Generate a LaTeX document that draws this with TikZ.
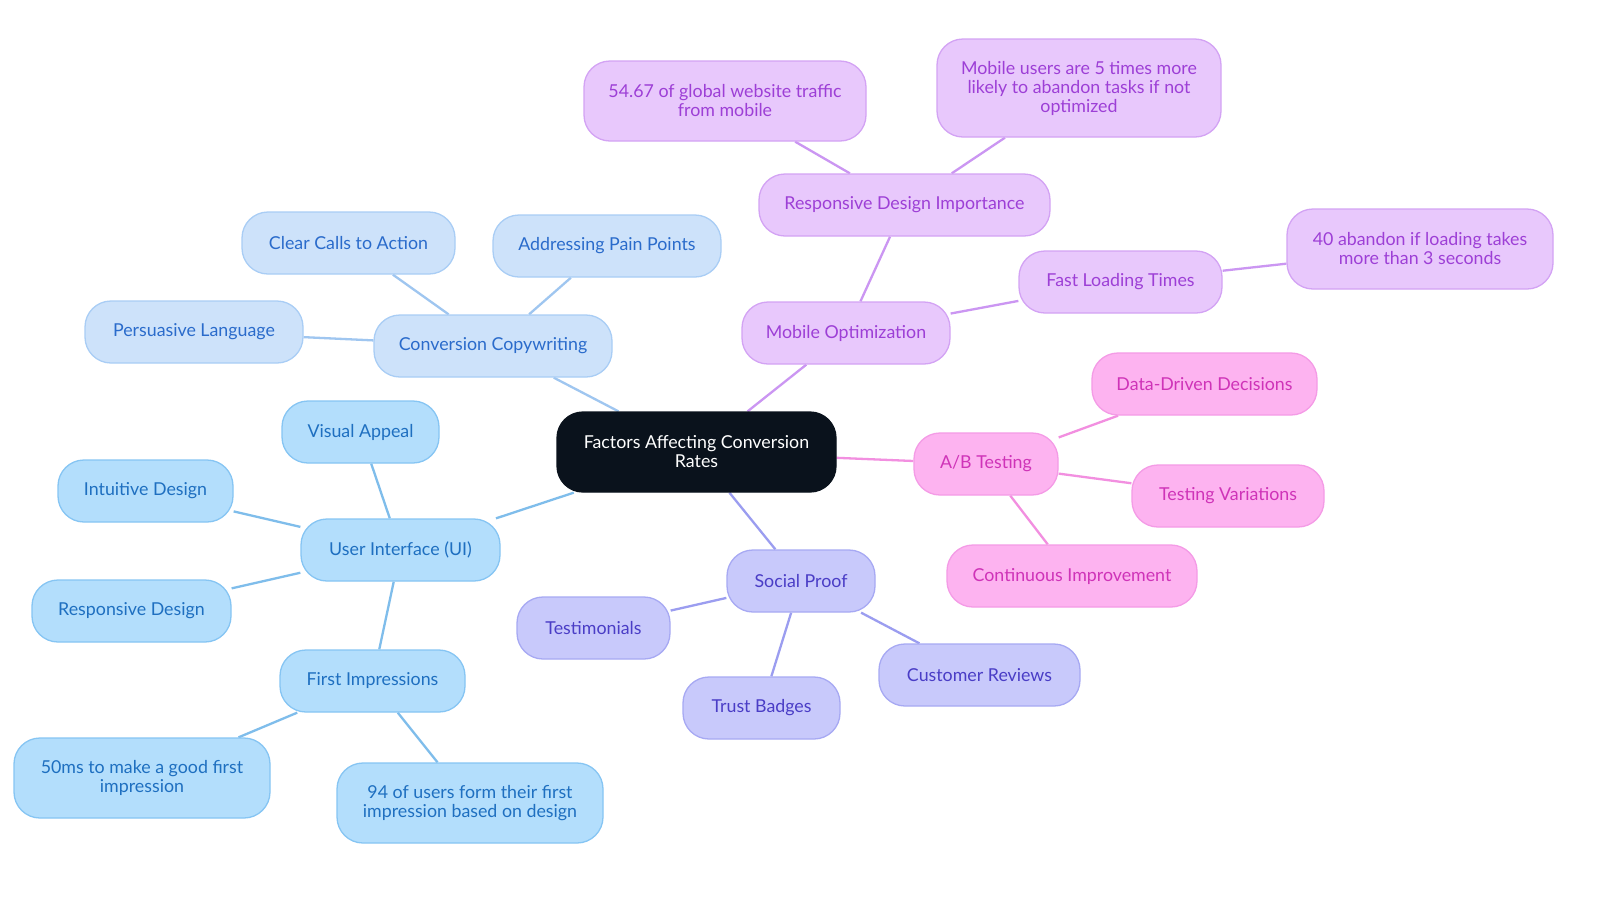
\documentclass[tikz,border=0pt]{standalone}
\usepackage{fontspec}
\setmainfont{Lato}
\usetikzlibrary{backgrounds}
\definecolor{cfill}{HTML}{0A121C}
\definecolor{bfill}{HTML}{B3DEFC}\definecolor{bdraw}{HTML}{86C5F3}\definecolor{btext}{HTML}{1E6FC0}\definecolor{bedge}{HTML}{7FBDEB}
\definecolor{kfill}{HTML}{CDE2FA}\definecolor{kdraw}{HTML}{A9CDF5}\definecolor{ktext}{HTML}{2A6BCB}\definecolor{kedge}{HTML}{9FC6F0}
\definecolor{pfill}{HTML}{E8C8FC}\definecolor{pdraw}{HTML}{D3A3F4}\definecolor{ptext}{HTML}{9D3FD6}\definecolor{pedge}{HTML}{CB96F2}
\definecolor{mfill}{HTML}{FDB3F0}\definecolor{mdraw}{HTML}{F49BE6}\definecolor{mtext}{HTML}{CF33B8}\definecolor{medge}{HTML}{F28FE0}
\definecolor{sfill}{HTML}{C8C9FB}\definecolor{sdraw}{HTML}{A7A9F3}\definecolor{stext}{HTML}{4A3DC6}\definecolor{sedge}{HTML}{9B9DF0}
\tikzset{
  box/.style={rectangle, rounded corners=26pt, line width=1.3pt, align=center, inner sep=0pt,
    font=\fontsize{17.8}{19}\selectfont, minimum height=62pt},
  centerbox/.style={box, fill=cfill, draw=cfill, text=white, minimum height=80pt, minimum width=279pt},
  bluebox/.style={box, fill=bfill, draw=bdraw, text=btext},
  copybox/.style={box, fill=kfill, draw=kdraw, text=ktext},
  purplebox/.style={box, fill=pfill, draw=pdraw, text=ptext},
  pinkbox/.style={box, fill=mfill, draw=mdraw, text=mtext},
  socialbox/.style={box, fill=sfill, draw=sdraw, text=stext},
  link/.style={line width=2.3pt},
}
\begin{document}
\begin{tikzpicture}[x=1pt,y=-1pt]
\useasboundingbox (0,0) rectangle (1600,903);
% center
\node[centerbox] (c) at (696.5,452) {Factors Affecting Conversion\\Rates};
% copywriting
\node[copybox, minimum width=238pt] (cc) at (493,346) {Conversion Copywriting};
\node[copybox, minimum width=213pt] (cta) at (348.5,243) {Clear Calls to Action};
\node[copybox, minimum width=228pt] (app) at (607,246) {Addressing Pain Points};
\node[copybox, minimum width=218pt] (pl) at (194,332) {Persuasive Language};
% UI
\node[bluebox, minimum width=199pt] (ui) at (400.5,550) {User Interface (UI)};
\node[bluebox, minimum width=157pt] (va) at (360.5,432) {Visual Appeal};
\node[bluebox, minimum width=175pt] (id) at (145.5,491) {Intuitive Design};
\node[bluebox, minimum width=199pt] (rd) at (131.5,611) {Responsive Design};
\node[bluebox, minimum width=185pt] (fi) at (372.5,681) {First Impressions};
\node[bluebox, minimum width=256pt, minimum height=80pt] (ms) at (142,778) {50ms to make a good first\\impression};
\node[bluebox, minimum width=266pt, minimum height=80pt] (nf) at (470,803) {94 of users form their first\\impression based on design};
% social proof
\node[socialbox, minimum width=148pt] (sp) at (801,581) {Social Proof};
\node[socialbox, minimum width=153pt] (te) at (593.5,628) {Testimonials};
\node[socialbox, minimum width=157pt] (tb) at (761.5,708) {Trust Badges};
\node[socialbox, minimum width=201pt] (cr) at (979.5,675) {Customer Reviews};
% A/B
\node[pinkbox, minimum width=144pt] (ab) at (986,464) {A/B Testing};
\node[pinkbox, minimum width=225pt] (dd) at (1204.5,384) {Data-Driven Decisions};
\node[pinkbox, minimum width=192pt] (tv) at (1228,496) {Testing Variations};
\node[pinkbox, minimum width=250pt] (ci) at (1072,576) {Continuous Improvement};
% mobile
\node[purplebox, minimum width=208pt] (mo) at (846,333) {Mobile Optimization};
\node[purplebox, minimum width=291pt] (rdi) at (904.5,205) {Responsive Design Importance};
\node[purplebox, minimum width=203pt] (flt) at (1120.5,282) {Fast Loading Times};
\node[purplebox, minimum width=266pt, minimum height=80pt] (fa) at (1420,249) {40 abandon if loading takes\\more than 3 seconds};
\node[purplebox, minimum width=282pt, minimum height=80pt] (gw) at (725,101) {54.67 of global website traffic\\from mobile};
\node[purplebox, minimum width=284pt, minimum height=98pt] (mu) at (1079,88) {Mobile users are 5 times more\\likely to abandon tasks if not\\optimized};
% edges
\begin{scope}[on background layer]
\fill[white] (0,0) rectangle (1600,903);
\draw[link, kedge] (c) -- (cc);
\draw[link, kedge] (cc) -- (cta);
\draw[link, kedge] (cc) -- (app);
\draw[link, kedge] (cc) -- (pl);
\draw[link, bedge] (c) -- (ui);
\draw[link, bedge] (ui) -- (va);
\draw[link, bedge] (ui) -- (id);
\draw[link, bedge] (ui) -- (rd);
\draw[link, bedge] (ui) -- (fi);
\draw[link, bedge] (fi) -- (ms);
\draw[link, bedge] (fi) -- (nf);
\draw[link, sedge] (c) -- (sp);
\draw[link, sedge] (sp) -- (te);
\draw[link, sedge] (sp) -- (tb);
\draw[link, sedge] (sp) -- (cr);
\draw[link, medge] (c) -- (ab);
\draw[link, medge] (ab) -- (dd);
\draw[link, medge] (ab) -- (tv);
\draw[link, medge] (ab) -- (ci);
\draw[link, pedge] (c) -- (mo);
\draw[link, pedge] (mo) -- (rdi);
\draw[link, pedge] (mo) -- (flt);
\draw[link, pedge] (flt) -- (fa);
\draw[link, pedge] (rdi) -- (gw);
\draw[link, pedge] (rdi) -- (mu);
\end{scope}
\end{tikzpicture}
\end{document}
